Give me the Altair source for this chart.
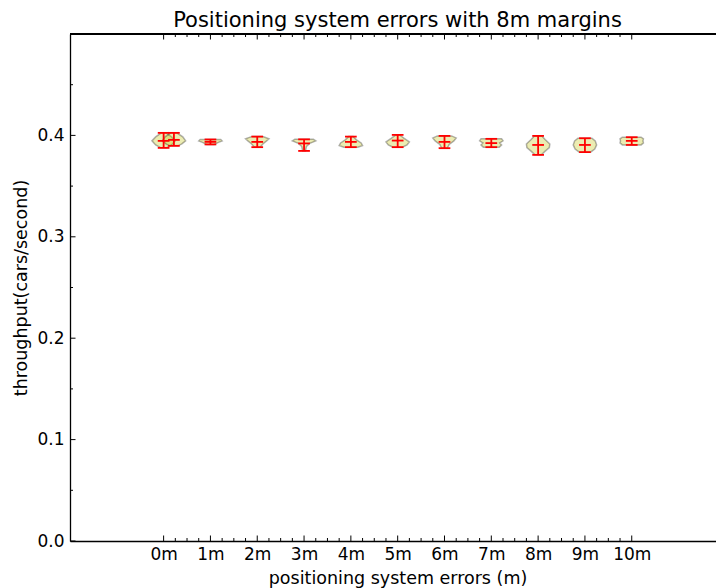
import altair as alt
import pandas as pd

# ---- data ----
x_labels = ["0m", "1m", "2m", "3m", "4m", "5m", "6m", "7m", "8m", "9m", "10m"]
x_major = [0, 1, 2, 3, 4, 5, 6, 7, 8, 9, 10]
y_major = [0.0, 0.1, 0.2, 0.3, 0.4]
y_minor = [0.05, 0.15, 0.25, 0.35, 0.45]

# violin centres (two overlapping violins at 0m)
positions = [0.0, 0.22, 1, 2, 3, 4, 5, 6, 7, 8, 9, 10]
v_min = [0.3877, 0.3897, 0.3911, 0.3884, 0.3847, 0.3884, 0.3884, 0.3874, 0.3884, 0.3808, 0.3835, 0.3906]
v_max = [0.4025, 0.4025, 0.3960, 0.3988, 0.3961, 0.3988, 0.4005, 0.3995, 0.3966, 0.3995, 0.3972, 0.3982]
v_mean = [0.3946, 0.3956, 0.3936, 0.3936, 0.3921, 0.3936, 0.3949, 0.3936, 0.3924, 0.3906, 0.3906, 0.3946]

# violin outline: levels (top to bottom) and half widths (x units)
v_levels = [
    [0.4025, 0.3985, 0.3946, 0.3906, 0.3877],
    [0.4025, 0.3985, 0.3946, 0.3916, 0.3897],
    [0.3960, 0.3946, 0.3931, 0.3911],
    [0.3988, 0.3966, 0.3946, 0.3916, 0.3884],
    [0.3961, 0.3946, 0.3921, 0.3890, 0.3847],
    [0.3988, 0.3956, 0.3926, 0.3900, 0.3884],
    [0.4005, 0.3970, 0.3936, 0.3906, 0.3884],
    [0.3995, 0.3975, 0.3946, 0.3911, 0.3874],
    [0.3966, 0.3946, 0.3926, 0.3906, 0.3884],
    [0.3995, 0.3960, 0.3916, 0.3880, 0.3840, 0.3808],
    [0.3972, 0.3946, 0.3906, 0.3866, 0.3835],
    [0.3982, 0.3966, 0.3946, 0.3926, 0.3906],
]
v_halfw = [
    [0.05, 0.17, 0.25, 0.17, 0.06],
    [0.06, 0.19, 0.25, 0.17, 0.09],
    [0.22, 0.25, 0.17, 0.08],
    [0.12, 0.25, 0.20, 0.12, 0.06],
    [0.20, 0.25, 0.12, 0.05, 0.03],
    [0.05, 0.12, 0.22, 0.25, 0.15],
    [0.04, 0.14, 0.25, 0.20, 0.10],
    [0.15, 0.25, 0.20, 0.10, 0.06],
    [0.22, 0.25, 0.18, 0.22, 0.17],
    [0.08, 0.15, 0.25, 0.24, 0.14, 0.07],
    [0.15, 0.22, 0.25, 0.21, 0.12],
    [0.20, 0.25, 0.24, 0.25, 0.20],
]

# ---- tables ----
CAP = 0.125
rows = []
for i, (p, lv, hw) in enumerate(zip(positions, v_levels, v_halfw)):
    for y, h in zip(lv, hw):
        rows.append({"id": i, "y": y, "lo": p - h, "hi": p + h})
violin_df = pd.DataFrame(rows)

bar_df = pd.DataFrame({"pos": positions, "ymin": v_min, "ymax": v_max})
cap_rows = []
for p, a, b, m in zip(positions, v_min, v_max, v_mean):
    for y in (a, b, m):
        cap_rows.append({"l": p - CAP, "r": p + CAP, "y": y})
cap_df = pd.DataFrame(cap_rows)

x_minor = [m + q for m in x_major[:-1] for q in (0.25, 0.5, 0.75)]
xmaj_df = pd.DataFrame({"v": x_major})
xmin_df = pd.DataFrame({"v": x_minor})
ymaj_df = pd.DataFrame({"v": y_major})
ymin_df = pd.DataFrame({"v": y_minor})

W, H = 646, 507
FONT = "DejaVu Sans"
xscale = alt.Scale(domain=[-2, 11.8], nice=False, zero=False)
yscale = alt.Scale(domain=[0, 0.5], nice=False, zero=True)

label_expr = "[" + ",".join("'%s'" % s for s in x_labels) + "][datum.value]"

xaxis = alt.Axis(
    values=x_major, labelExpr=label_expr, title="positioning system errors (m)",
    ticks=False, tickSize=0, grid=False, domain=True, domainColor="black",
    domainWidth=1.3, labelFont=FONT, labelFontSize=17, labelColor="black",
    labelPadding=5, labelFlush=False, labelOverlap=False,
    titleFont=FONT, titleFontSize=17.5, titleFontWeight="normal", titleColor="black",
    titleX=327.5, titleY=37.5, titleBaseline="middle", titleAnchor="middle",
)
yaxis = alt.Axis(
    values=y_major, format=".1f", title="throughput(cars/second)",
    ticks=False, tickSize=0, grid=False, domain=True, domainColor="black",
    domainWidth=1.3, labelFont=FONT, labelFontSize=17, labelColor="black",
    labelPadding=6, labelFlush=False, labelOverlap=False,
    titleFont=FONT, titleFontSize=17.5, titleFontWeight="normal", titleColor="black",
    titleX=-49, titleY=H / 2, titleAngle=270, titleBaseline="middle", titleAnchor="middle",
)

violins = alt.Chart(violin_df).mark_area(
    orient="horizontal", fill="#bfbf00", fillOpacity=0.3,
    stroke="black", strokeOpacity=0.3, strokeWidth=1.5,
).encode(
    y=alt.Y("y:Q", scale=yscale, axis=yaxis),
    x=alt.X("lo:Q", scale=xscale, axis=xaxis),
    x2="hi:Q",
    detail="id:N",
)

bars = alt.Chart(bar_df).mark_rule(color="red", strokeWidth=1.8).encode(
    x=alt.X("pos:Q", scale=xscale), y=alt.Y("ymin:Q", scale=yscale), y2="ymax:Q"
)
caps = alt.Chart(cap_df).mark_rule(color="red", strokeWidth=1.8).encode(
    x=alt.X("l:Q", scale=xscale), x2="r:Q", y=alt.Y("y:Q", scale=yscale)
)

MAJ, MIN = 5.5, 3
tick_style = dict(color="black", strokeWidth=1)
xt_bot_maj = alt.Chart(xmaj_df).mark_rule(**tick_style).encode(
    x=alt.X("v:Q", scale=xscale), y=alt.value(H), y2=alt.value(H - MAJ))
xt_bot_min = alt.Chart(xmin_df).mark_rule(**tick_style).encode(
    x=alt.X("v:Q", scale=xscale), y=alt.value(H), y2=alt.value(H - MIN))
xt_top_maj = alt.Chart(xmaj_df).mark_rule(**tick_style).encode(
    x=alt.X("v:Q", scale=xscale), y=alt.value(0), y2=alt.value(MAJ))
xt_top_min = alt.Chart(xmin_df).mark_rule(**tick_style).encode(
    x=alt.X("v:Q", scale=xscale), y=alt.value(0), y2=alt.value(MIN))
yt_maj = alt.Chart(ymaj_df).mark_rule(**tick_style).encode(
    y=alt.Y("v:Q", scale=yscale), x=alt.value(0), x2=alt.value(MAJ))
yt_min = alt.Chart(ymin_df).mark_rule(**tick_style).encode(
    y=alt.Y("v:Q", scale=yscale), x=alt.value(0), x2=alt.value(MIN))
top_spine = alt.Chart(xmaj_df).mark_rule(color="black", strokeWidth=1.3).encode(
    x=alt.value(0), x2=alt.value(W), y=alt.value(0))

chart = alt.layer(
    violins, bars, caps,
    xt_bot_maj, xt_bot_min, xt_top_maj, xt_top_min, yt_maj, yt_min, top_spine,
).properties(
    width=W, height=H,
    title=alt.TitleParams(
        "Positioning system errors with 8m margins", font=FONT, fontSize=21,
        fontWeight="normal", color="black", anchor="middle", dx=4.5, offset=2,
    ),
    autosize=alt.AutoSizeParams(type="none"),
    padding={"left": 70, "top": 34, "right": 0, "bottom": 47},
    background="white",
).configure_view(stroke=None)

chart.save("out.html", embed_options={"renderer": "svg", "actions": False})
